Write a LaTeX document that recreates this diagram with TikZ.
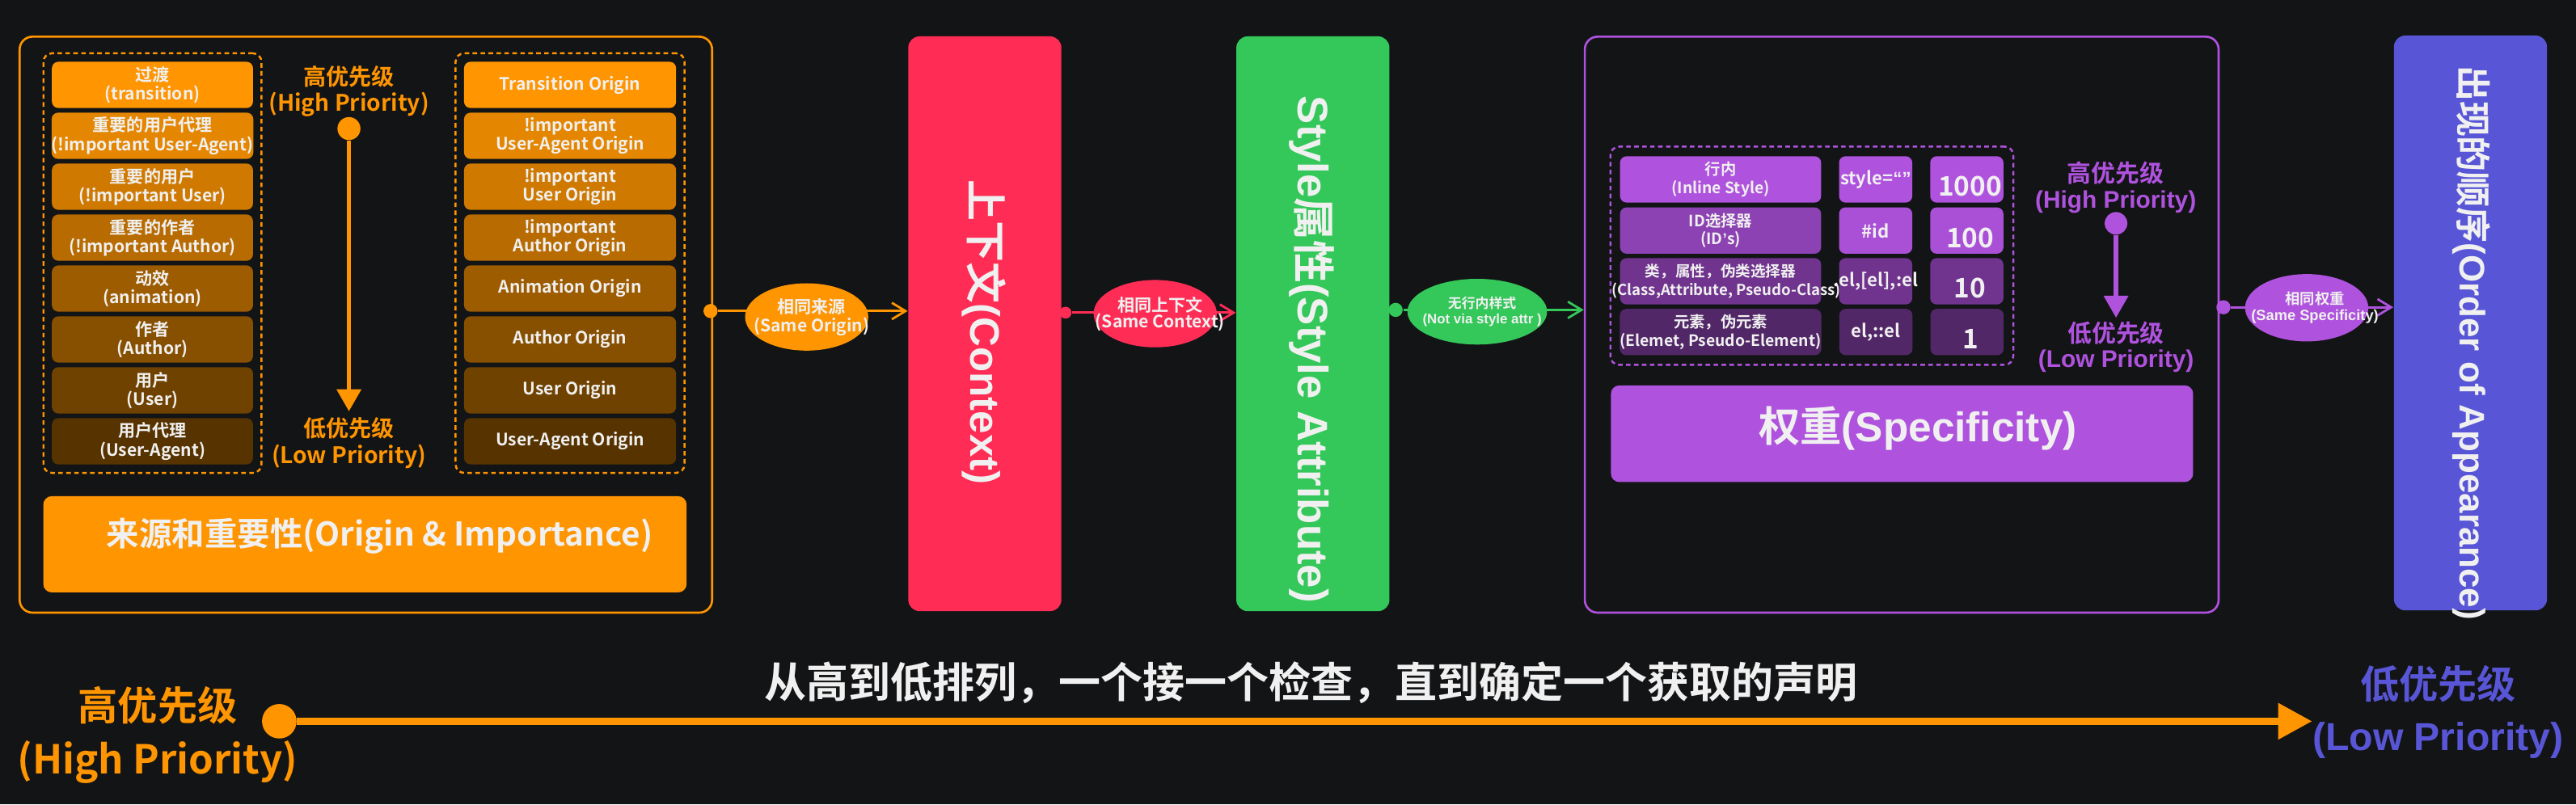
\documentclass[tikz,border=0pt]{standalone}
\usepackage{fontspec}
\setmainfont{Noto Sans CJK SC}[BoldFont={Noto Sans CJK SC Bold}]
\newfontfamily\wide{Liberation Sans}
\usetikzlibrary{shapes.geometric, arrows.meta, positioning, fit}

\newlength\pxu
\setlength\pxu{0.20319mm}

\definecolor{bgdark}{RGB}{19,20,22}
\definecolor{corange}{RGB}{255,149,0}
\definecolor{cred}{RGB}{255,45,85}
\definecolor{cgreen}{RGB}{52,199,89}
\definecolor{cpurple}{RGB}{175,82,222}
\definecolor{cindigo}{RGB}{88,86,214}
\definecolor{ctext}{RGB}{240,240,240}

\tikzstyle{panel} = [rectangle, rounded corners=4.5pt, line width=0.75pt, anchor=north west, inner sep=0pt, minimum height=350.7\pxu]
\tikzstyle{block} = [rectangle, rounded corners=4pt, anchor=north west, inner sep=0pt, minimum width=93.2\pxu, minimum height=350\pxu]
\tikzstyle{item} = [rectangle, rounded corners=2.3pt, minimum height=28.2\pxu, inner sep=0pt, align=center, text=ctext, font=\fontsize{6}{6.6}\selectfont\bfseries]
\tikzstyle{cell} = [rectangle, rounded corners=2.3pt, minimum height=28.2\pxu, minimum width=44.6\pxu, inner sep=0pt, align=center, text=ctext]
\tikzstyle{group} = [rectangle, rounded corners=3pt, dash pattern=on 1.6pt off 1.2pt, line width=0.7pt, inner sep=4.8\pxu]
\tikzstyle{bar} = [rectangle, rounded corners=3pt, anchor=north west, inner sep=0pt]
\tikzstyle{bartext} = [text=ctext, inner sep=0pt]
\tikzstyle{numtext} = [text=ctext, inner sep=0pt, xshift=2\pxu, yshift=-4.3\pxu, font=\fontsize{9.5}{9.5}\selectfont\bfseries]
\tikzstyle{tag} = [ellipse, inner sep=0pt, minimum width=75\pxu, minimum height=41\pxu]
\tikzstyle{tagtext} = [text=ctext, align=center, inner sep=0pt, xshift=3\pxu]
\tikzstyle{hub} = [circle, inner sep=0pt, minimum size=8.6\pxu]
\tikzstyle{link} = [line width=0.8pt, -{Straight Barb[length=4.8pt, width=5.8pt]}]
\tikzstyle{prio} = [line width=1.6pt, -{Triangle[length=7.8pt, width=8.4pt]}]
\tikzstyle{ranktext} = [align=center, inner sep=0pt]
\tikzstyle{vtext} = [rotate=-90, text=ctext, inner sep=0pt]

\begin{document}
\begin{tikzpicture}[x=\pxu, y=-\pxu]

    \fill [bgdark] (0,0) rectangle (1568,489.7);
    \useasboundingbox (0,0) rectangle (1568,489.7);

    % origin and importance
    \node (origin) [panel, draw=corange, minimum width=421.5\pxu] at (11.3,21.7) {};

    \foreach \zh/\en [count=\i] in {过渡/transition, 重要的用户代理/!important User-Agent, 重要的用户/!important User, 重要的作者/!important Author, 动效/animation, 作者/Author, 用户/User, 用户代理/User-Agent} {
        \pgfmathtruncatemacro\shade{100-(\i-1)*9.3}
        \node (src\i) [item, fill=corange!\shade!black, minimum width=122.4\pxu] at (92.8,{51.7+(\i-1)*31}) {\zh\\(\en)};
    }
    \foreach \en [count=\i] in {Transition Origin, {!important\\User-Agent Origin}, {!important\\User Origin}, {!important\\Author Origin}, Animation Origin, Author Origin, User Origin, User-Agent Origin} {
        \pgfmathtruncatemacro\shade{100-(\i-1)*9.3}
        \node (org\i) [item, fill=corange!\shade!black, minimum width=129.1\pxu] at (347,{51.7+(\i-1)*31}) {\en};
    }
    \node (srcgroup) [group, draw=corange, fit=(src1)(src8)] {};
    \node (orggroup) [group, draw=corange, fit=(org1)(org8)] {};

    \node (srchigh) [ranktext, text=corange, font=\fontsize{8}{9.3}\selectfont\bfseries] at (212.4,55.5) {高优先级\\(High Priority)};
    \node (srcdot) [hub, fill=corange, minimum size=14\pxu] at (212.4,78.3) {};
    \node (srclow) [ranktext, text=corange, font=\fontsize{8}{9.3}\selectfont\bfseries] at (212.4,269.8) {低优先级\\(Low Priority)};
    \draw [prio, corange, shorten >=2pt] (srcdot) -- (srclow.north);

    \node (originbar) [bar, fill=corange, minimum width=391.6\pxu, minimum height=58.6\pxu,
        label={[bartext, xshift=9\pxu, yshift=5\pxu, font=\fontsize{11.5}{11.5}\selectfont\bfseries]center:来源和重要性(Origin \& Importance)}] at (26,301.8) {};

    % context, style attribute
    \node (ctx) [block, fill=cred] at (552.5,21.8) {};
    \node (ctxlabel) [vtext, font=\fontsize{14.5}{14.5}\selectfont\bfseries] at (599,202.3) {上下文{\wide(Context)}};
    \node (attr) [block, fill=cgreen] at (752.2,21.8) {};
    \node (attrlabel) [vtext, font=\fontsize{15}{15}\selectfont\bfseries] at (798.6,212.8) {{\wide Style}属性{\wide(Style Attribute)}};

    % specificity
    \node (spec) [panel, draw=cpurple, minimum width=385.8\pxu] at (964,21.7) {};

    \node (r1a) [cell, fill=cpurple, minimum width=122.4\pxu, font=\fontsize{5.5}{6.3}\selectfont\bfseries] at (1047.3,109.25) {行内\\(Inline Style)};
    \node (r1b) [cell, fill=cpurple, right=10.2\pxu of r1a, font=\fontsize{6.3}{6.3}\selectfont\bfseries] {style={\wide “”}};
    \node (r1c) [cell, fill=cpurple, right=10.2\pxu of r1b, label={[numtext]center:1000}] {};
    \node (r2a) [cell, fill=cpurple!80!black, minimum width=122.4\pxu, font=\fontsize{5.5}{6.3}\selectfont\bfseries] at (1047.3,140.4) {ID选择器\\(ID{\wide ’}s)};
    \node (r2b) [cell, fill=cpurple!97!black, right=10.2\pxu of r2a, font=\fontsize{6.3}{6.3}\selectfont\bfseries] {\#id};
    \node (r2c) [cell, fill=cpurple!97!black, right=10.2\pxu of r2b, label={[numtext]center:100}] {};
    \node (r3a) [cell, fill=cpurple!64!black, minimum width=122.4\pxu, font=\fontsize{5.3}{6.3}\selectfont\bfseries] at (1047.3,171.3) {类，属性，伪类选择器\\\makebox[0pt]{\hspace{7\pxu}(Class,Attribute, Pseudo-Class)}};
    \node (r3b) [cell, fill=cpurple!64!black, right=10.2\pxu of r3a, font=\fontsize{6.3}{6.3}\selectfont\bfseries] {\makebox[0pt]{.el,[el],:el}};
    \node (r3c) [cell, fill=cpurple!64!black, right=10.2\pxu of r3b, label={[numtext]center:10}] {};
    \node (r4a) [cell, fill=cpurple!47!black, minimum width=122.4\pxu, font=\fontsize{5.5}{6.3}\selectfont\bfseries] at (1047.3,202.2) {元素，伪元素\\(Elemet, Pseudo-Element)};
    \node (r4b) [cell, fill=cpurple!47!black, right=10.2\pxu of r4a, font=\fontsize{6.3}{6.3}\selectfont\bfseries] {el,::el};
    \node (r4c) [cell, fill=cpurple!47!black, right=10.2\pxu of r4b, label={[numtext]center:1}] {};
    \node (specgroup) [group, draw=cpurple, fit=(r1a)(r4c), inner sep=5.5\pxu] {};

    \node (spechigh) [ranktext, text=cpurple, font=\fontsize{8.5}{9}\selectfont\bfseries] at (1287.8,114.2) {高优先级\\{\wide(High Priority)}};
    \node (specdot) [hub, fill=cpurple, minimum size=13.8\pxu] at (1288,136) {};
    \node (speclow) [ranktext, text=cpurple, font=\fontsize{8.5}{9}\selectfont\bfseries] at (1288,211.2) {低优先级\\{\wide(Low Priority)}};
    \draw [prio, cpurple, shorten >=1pt] (specdot) -- (speclow.north);

    \node (specbar) [bar, fill=cpurple, minimum width=354.4\pxu, minimum height=58.9\pxu,
        label={[bartext, xshift=9.6\pxu, yshift=3.4\pxu, font=\fontsize{14.6}{14.6}\selectfont\bfseries]center:权重{\wide(Specificity)}}] at (980.2,234.3) {};

    % order of appearance
    \node (order) [block, fill=cindigo] at (1456.8,21.3) {};
    \node (orderlabel) [vtext, font=\fontsize{12.5}{12.5}\selectfont\bfseries] at (1504.2,208.7) {出现的顺序{\wide(Order of Appearance)}};

    % links between the steps
    \node (odot) [hub, fill=corange] at (432.5,189.4) {};
    \node (cdot) [hub, fill=cred, minimum size=7.2\pxu] at (648.6,190.4) {};
    \node (sdot) [hub, fill=cgreen] at (849.5,188.7) {};
    \node (pdot) [hub, fill=cpurple] at (1353.4,187.1) {};

    \draw [link, corange] (odot) -- node (sameorigin) [tag, fill=corange, pos=0.467, yshift=-3.6\pxu,
        label={[tagtext, font=\fontsize{6}{5.4}\selectfont\bfseries]center:相同来源\\(Same Origin)}] {} (odot -| ctx.west);
    \draw [link, cred] (cdot) -- node (samecontext) [tag, fill=cred, pos=0.508, yshift=-0.6\pxu,
        label={[tagtext, font=\fontsize{6}{5.7}\selectfont\bfseries]center:相同上下文\\(Same Context)}] {} (cdot -| attr.west);
    \draw [link, cgreen] (sdot) -- node (noinline) [tag, fill=cgreen, minimum width=85\pxu, minimum height=40\pxu, pos=0.41, yshift=-1.1\pxu,
        label={[tagtext, font=\fontsize{4.8}{5.3}\selectfont\bfseries]center:无行内样式\\{\wide(Not via style attr )}}] {} (sdot -| spec.west);
    \draw [link, cpurple] (pdot) -- node (samespec) [tag, fill=cpurple, pos=0.466, yshift=-0.3\pxu,
        label={[tagtext, xshift=2\pxu, font=\fontsize{5.2}{5.7}\selectfont\bfseries]center:相同权重\\{\wide(Same Specificity)}}] {} (pdot -| order.west);

    % overall priority
    \node (hidot) [hub, fill=corange, minimum size=21\pxu] at (170,439.2) {};
    \node (hiprio) [ranktext, text=corange, font=\fontsize{14}{18.7}\selectfont\bfseries] at (96,447.6) {高优先级\\(High Priority)};
    \node (loprio) [ranktext, text=cindigo, font=\fontsize{13.7}{18}\selectfont\bfseries] at (1484,433.5) {低优先级\\{\wide(Low Priority)}};
    \draw [line width=2.35pt, corange, -{Triangle[length=11.9pt, width=12.3pt]}] (hidot) -- (hidot -| loprio.west);
    \node (cascade) [text=ctext, inner sep=0pt, font=\fontsize{14.8}{14.8}\selectfont\bfseries] at (798,415.8) {从高到低排列，一个接一个检查，直到确定一个获取的声明};

\end{tikzpicture}
\end{document}
